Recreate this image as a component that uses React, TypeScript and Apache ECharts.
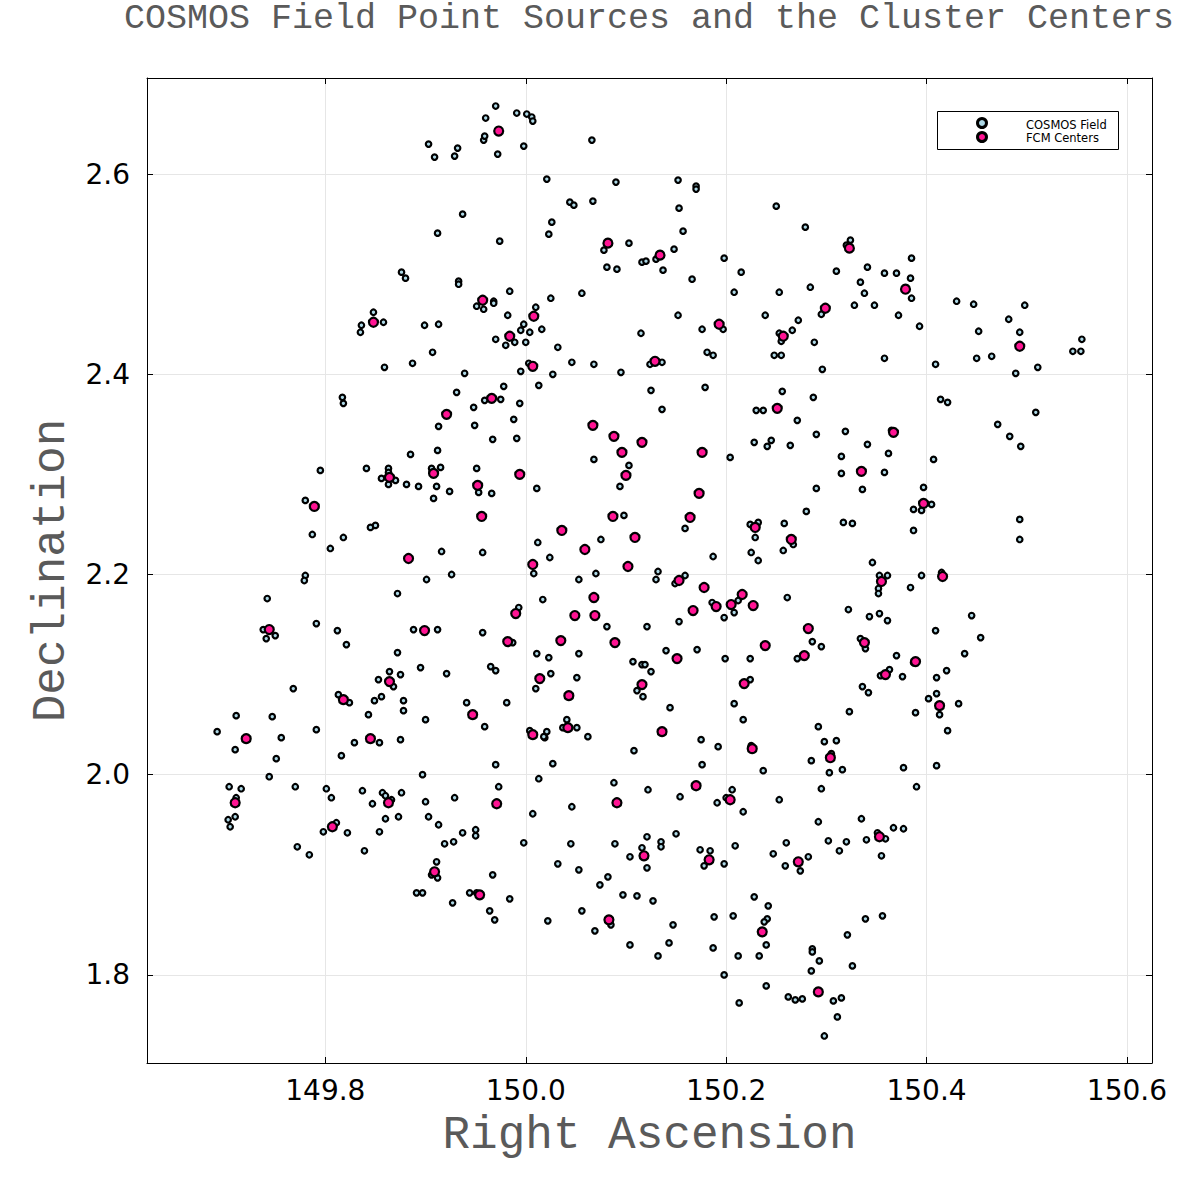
import React, { useEffect, useRef } from "react";
import * as echarts from "echarts";

const chartTitle = "COSMOS Field Point Sources and the Cluster Centers";
const xName = "Right Ascension";
const yName = "Declination";
const legendNames = ["COSMOS Field", "FCM Centers"];
const raRange = [149.622, 150.625];
const decRange = [1.712, 2.696];

// [RA, Dec] of field point sources
const fieldPoints: number[][] = [
  [149.970, 2.668], [149.960, 2.656], [149.991, 2.661], [150.001, 2.660], [150.006, 2.657], [150.007, 2.653],
  [149.958, 2.634], [149.959, 2.638], [149.903, 2.630], [149.932, 2.626], [149.909, 2.617], [149.929, 2.618],
  [149.972, 2.620], [149.998, 2.628], [150.066, 2.634], [150.021, 2.595], [150.090, 2.592], [150.152, 2.594],
  [150.170, 2.588], [150.170, 2.585], [150.250, 2.568], [150.044, 2.572], [150.048, 2.569], [150.067, 2.573],
  [150.153, 2.566], [150.026, 2.552], [150.023, 2.540], [149.937, 2.560], [149.912, 2.541], [149.974, 2.533],
  [150.078, 2.524], [150.103, 2.531], [150.157, 2.543], [150.148, 2.525], [150.130, 2.515], [150.116, 2.512],
  [150.120, 2.513], [150.137, 2.504], [150.081, 2.507], [150.091, 2.505], [150.198, 2.516], [150.215, 2.502],
  [150.166, 2.495], [150.208, 2.482], [150.253, 2.482], [150.056, 2.481], [149.984, 2.483], [149.968, 2.473],
  [149.968, 2.471], [150.025, 2.476], [150.010, 2.467], [149.982, 2.459], [149.998, 2.450], [149.995, 2.444],
  [150.004, 2.442], [150.016, 2.445], [149.970, 2.435], [149.980, 2.429], [149.989, 2.432], [150.000, 2.432],
  [150.032, 2.427], [150.046, 2.412], [150.068, 2.410], [150.095, 2.402], [150.003, 2.411], [149.995, 2.403],
  [150.027, 2.400], [150.013, 2.389], [149.978, 2.388], [149.975, 2.375], [149.994, 2.371], [149.988, 2.355],
  [150.152, 2.459], [150.176, 2.445], [150.197, 2.445], [150.115, 2.441], [150.124, 2.410], [150.136, 2.412],
  [150.181, 2.422], [150.187, 2.419], [150.125, 2.384], [150.179, 2.387], [150.136, 2.365], [150.239, 2.459],
  [150.253, 2.441], [150.255, 2.433], [150.266, 2.444], [150.272, 2.454], [150.248, 2.419], [150.255, 2.419],
  [150.256, 2.383], [150.230, 2.364], [150.237, 2.364], [150.271, 2.354], [149.876, 2.502], [149.880, 2.496],
  [149.933, 2.493], [149.933, 2.490], [149.951, 2.468], [149.958, 2.465], [149.848, 2.462], [149.858, 2.452],
  [149.836, 2.449], [149.835, 2.442], [149.899, 2.449], [149.913, 2.450], [149.907, 2.422], [149.887, 2.411],
  [149.859, 2.407], [149.939, 2.401], [149.817, 2.377], [149.818, 2.371], [149.931, 2.382], [149.959, 2.374],
  [149.948, 2.367], [149.913, 2.348], [149.949, 2.349], [150.279, 2.547], [150.324, 2.534], [150.320, 2.529],
  [150.385, 2.516], [150.310, 2.503], [150.341, 2.507], [150.358, 2.501], [150.370, 2.501], [150.384, 2.496],
  [150.334, 2.492], [150.284, 2.487], [150.338, 2.481], [150.385, 2.476], [150.295, 2.460], [150.328, 2.469],
  [150.348, 2.469], [150.372, 2.459], [150.393, 2.448], [150.288, 2.432], [150.358, 2.416], [150.296, 2.405],
  [150.430, 2.473], [150.447, 2.470], [150.498, 2.469], [150.482, 2.455], [150.452, 2.443], [150.493, 2.442],
  [150.555, 2.435], [150.546, 2.423], [150.554, 2.423], [150.450, 2.416], [150.465, 2.418], [150.409, 2.410],
  [150.489, 2.401], [150.511, 2.407], [150.287, 2.377], [150.414, 2.375], [150.421, 2.372], [150.509, 2.362],
  [150.471, 2.350], [149.967, 2.335], [149.912, 2.324], [149.885, 2.320], [149.795, 2.304], [149.841, 2.306],
  [149.863, 2.306], [149.863, 2.302], [149.856, 2.296], [149.870, 2.294], [149.863, 2.290], [149.881, 2.290],
  [149.893, 2.288], [149.906, 2.306], [149.915, 2.307], [149.911, 2.288], [149.924, 2.283], [149.908, 2.276],
  [149.951, 2.306], [149.953, 2.282], [149.966, 2.281], [149.780, 2.274], [149.850, 2.249], [149.845, 2.247],
  [149.787, 2.240], [149.818, 2.237], [149.805, 2.226], [149.916, 2.223], [149.957, 2.222], [149.780, 2.199],
  [149.779, 2.194], [149.901, 2.195], [149.926, 2.200], [149.872, 2.181], [149.742, 2.176], [149.738, 2.145],
  [149.750, 2.139], [149.741, 2.136], [149.791, 2.151], [149.812, 2.144], [149.821, 2.130], [149.888, 2.145],
  [149.912, 2.145], [149.957, 2.142], [149.872, 2.122], [149.895, 2.107], [149.921, 2.101], [149.965, 2.108],
  [149.970, 2.104], [149.864, 2.103], [149.875, 2.100], [149.853, 2.095], [149.868, 2.088], [149.768, 2.086],
  [149.813, 2.080], [149.824, 2.072], [149.849, 2.074], [149.856, 2.078], [149.878, 2.074], [149.878, 2.064],
  [149.843, 2.060], [149.900, 2.055], [149.941, 2.072], [149.981, 2.072], [149.959, 2.048], [149.711, 2.059],
  [149.747, 2.058], [149.692, 2.043], [149.756, 2.037], [149.791, 2.045], [149.829, 2.032], [149.854, 2.032],
  [149.875, 2.035], [149.710, 2.025], [149.751, 2.016], [149.816, 2.019], [149.744, 1.998], [149.770, 1.988],
  [149.704, 1.988], [149.716, 1.986], [149.711, 1.977], [149.703, 1.955], [149.710, 1.958], [149.705, 1.948],
  [149.801, 1.986], [149.806, 1.977], [149.811, 1.952], [149.798, 1.943], [149.822, 1.942], [149.772, 1.928],
  [149.784, 1.920], [149.837, 1.984], [149.847, 1.971], [149.857, 1.982], [149.860, 1.979], [149.866, 1.975],
  [149.876, 1.982], [149.860, 1.956], [149.873, 1.958], [149.854, 1.943], [149.839, 1.924], [149.897, 2.000],
  [149.970, 2.010], [149.973, 1.988], [149.900, 1.973], [149.929, 1.977], [149.903, 1.958], [149.913, 1.950],
  [149.937, 1.942], [149.950, 1.945], [149.950, 1.939], [149.919, 1.931], [149.928, 1.933], [149.911, 1.913],
  [149.906, 1.900], [149.912, 1.897], [149.967, 1.900], [149.891, 1.882], [149.897, 1.882], [149.944, 1.882],
  [149.951, 1.882], [149.927, 1.872], [149.964, 1.864], [149.969, 1.855], [149.984, 1.876], [150.019, 2.037],
  [150.021, 2.043], [150.062, 2.038], [150.175, 2.035], [150.192, 2.028], [150.225, 2.029], [150.108, 2.024],
  [150.027, 2.011], [150.176, 2.010], [150.237, 2.004], [150.013, 1.996], [150.088, 1.992], [150.122, 1.985],
  [150.206, 1.985], [150.200, 1.977], [150.191, 1.972], [150.217, 1.963], [150.154, 1.978], [150.253, 1.975],
  [150.007, 1.961], [150.046, 1.968], [150.150, 1.941], [150.121, 1.938], [150.135, 1.933], [150.135, 1.928],
  [150.116, 1.927], [150.104, 1.918], [150.121, 1.907], [150.089, 1.931], [150.045, 1.931], [149.998, 1.932],
  [150.032, 1.911], [150.053, 1.905], [150.174, 1.925], [150.184, 1.924], [150.178, 1.909], [150.198, 1.911],
  [150.209, 1.929], [150.260, 1.932], [150.247, 1.921], [150.259, 1.909], [150.082, 1.898], [150.074, 1.890],
  [150.097, 1.880], [150.111, 1.879], [150.127, 1.874], [150.022, 1.854], [150.056, 1.864], [150.085, 1.850],
  [150.069, 1.844], [150.147, 1.850], [150.143, 1.832], [150.104, 1.830], [150.132, 1.819], [150.188, 1.858],
  [150.207, 1.859], [150.228, 1.878], [150.242, 1.869], [150.241, 1.856], [150.238, 1.853], [150.240, 1.830],
  [150.187, 1.827], [150.212, 1.819], [150.233, 1.819], [150.198, 1.800], [150.240, 1.789], [150.213, 1.772],
  [150.262, 1.778], [150.269, 1.775], [150.298, 2.033], [150.310, 2.034], [150.305, 2.021], [150.285, 2.014],
  [150.303, 2.002], [150.316, 2.005], [150.421, 2.044], [150.377, 2.007], [150.410, 2.009], [150.390, 1.988],
  [150.295, 1.986], [150.292, 1.953], [150.335, 1.956], [150.302, 1.934], [150.320, 1.933], [150.313, 1.924],
  [150.282, 1.918], [150.274, 1.904], [150.340, 1.935], [150.351, 1.942], [150.359, 1.936], [150.367, 1.947],
  [150.377, 1.946], [150.355, 1.919], [150.339, 1.856], [150.356, 1.859], [150.321, 1.840], [150.286, 1.826],
  [150.286, 1.823], [150.293, 1.814], [150.285, 1.804], [150.326, 1.809], [150.276, 1.776], [150.307, 1.774],
  [150.315, 1.777], [150.311, 1.758], [150.298, 1.739], [149.991, 2.336], [150.068, 2.315], [150.103, 2.309],
  [150.094, 2.288], [150.011, 2.286], [150.204, 2.317], [150.228, 2.332], [150.241, 2.328], [150.245, 2.334],
  [150.264, 2.329], [150.098, 2.259], [150.159, 2.246], [150.012, 2.232], [150.024, 2.217], [150.075, 2.235],
  [150.070, 2.201], [150.053, 2.195], [150.008, 2.201], [150.132, 2.203], [150.130, 2.195], [150.149, 2.191],
  [150.159, 2.199], [150.187, 2.218], [150.224, 2.250], [150.232, 2.252], [150.229, 2.237], [150.258, 2.251],
  [150.267, 2.230], [150.225, 2.222], [150.232, 2.214], [150.257, 2.224], [150.017, 2.175], [150.081, 2.148],
  [150.121, 2.148], [150.153, 2.153], [150.186, 2.172], [150.212, 2.174], [150.208, 2.162], [150.198, 2.157],
  [150.261, 2.177], [149.993, 2.167], [149.987, 2.132], [150.011, 2.121], [150.023, 2.117], [150.053, 2.121],
  [150.107, 2.113], [150.116, 2.110], [150.119, 2.110], [150.125, 2.103], [150.140, 2.124], [150.171, 2.125],
  [150.199, 2.116], [150.224, 2.116], [150.271, 2.116], [150.025, 2.101], [150.051, 2.097], [150.010, 2.086],
  [150.111, 2.084], [150.117, 2.078], [150.144, 2.067], [150.224, 2.095], [150.208, 2.071], [150.217, 2.055],
  [150.041, 2.055], [150.037, 2.047], [150.051, 2.047], [150.004, 2.044], [150.018, 2.038], [150.290, 2.340],
  [150.319, 2.343], [150.341, 2.330], [150.315, 2.318], [150.362, 2.321], [150.407, 2.315], [150.483, 2.338],
  [150.494, 2.328], [150.315, 2.301], [150.358, 2.302], [150.290, 2.286], [150.336, 2.285], [150.397, 2.287],
  [150.405, 2.270], [150.387, 2.265], [150.395, 2.264], [150.280, 2.263], [150.317, 2.252], [150.326, 2.251],
  [150.387, 2.244], [150.493, 2.255], [150.493, 2.235], [150.346, 2.212], [150.353, 2.199], [150.361, 2.199],
  [150.352, 2.186], [150.352, 2.181], [150.384, 2.187], [150.395, 2.199], [150.322, 2.165], [150.343, 2.158],
  [150.353, 2.161], [150.361, 2.154], [150.445, 2.159], [150.409, 2.144], [150.454, 2.137], [150.286, 2.133],
  [150.295, 2.128], [150.334, 2.136], [150.339, 2.126], [150.370, 2.119], [150.354, 2.099], [150.363, 2.105],
  [150.376, 2.098], [150.438, 2.121], [150.420, 2.104], [150.410, 2.097], [150.336, 2.088], [150.342, 2.082],
  [150.402, 2.076], [150.410, 2.081], [150.413, 2.060], [150.432, 2.071], [150.389, 2.062], [150.323, 2.063],
  [150.292, 2.048], [150.365, 2.344], [150.415, 2.202], [150.387, 2.112],
];

// [RA, Dec] of the fuzzy c-means cluster centers
const clusterCenters: number[][] = [
  [149.973, 2.643], [150.082, 2.531], [150.134, 2.519], [149.957, 2.474], [149.848, 2.452], [150.008, 2.458],
  [149.984, 2.438], [150.193, 2.450], [150.007, 2.408], [150.129, 2.413], [149.966, 2.376], [149.921, 2.360],
  [150.257, 2.438], [150.251, 2.366], [150.067, 2.349], [150.323, 2.526], [150.379, 2.485], [150.299, 2.466],
  [150.493, 2.428], [149.864, 2.297], [149.908, 2.301], [149.952, 2.289], [149.956, 2.258], [149.789, 2.268],
  [149.883, 2.216], [149.744, 2.145], [149.899, 2.144], [149.982, 2.133], [149.864, 2.093], [149.818, 2.075],
  [149.947, 2.060], [149.721, 2.036], [149.845, 2.036], [149.710, 1.972], [149.807, 1.948], [149.863, 1.972],
  [149.971, 1.971], [149.909, 1.903], [149.954, 1.880], [150.088, 2.338], [150.096, 2.322], [150.116, 2.332],
  [150.100, 2.299], [149.994, 2.300], [150.176, 2.322], [150.173, 2.281], [150.087, 2.258], [150.164, 2.257],
  [150.036, 2.244], [150.059, 2.225], [150.109, 2.237], [150.102, 2.208], [150.007, 2.210], [150.153, 2.194],
  [150.178, 2.187], [150.229, 2.247], [150.265, 2.235], [150.068, 2.177], [150.069, 2.159], [150.049, 2.159],
  [150.167, 2.164], [150.190, 2.168], [150.205, 2.170], [150.216, 2.180], [150.227, 2.169], [149.990, 2.161],
  [150.035, 2.134], [150.089, 2.132], [150.151, 2.116], [150.239, 2.129], [150.014, 2.096], [150.043, 2.079],
  [150.116, 2.090], [150.218, 2.091], [150.042, 2.047], [150.007, 2.040], [150.136, 2.043], [150.226, 2.026],
  [150.170, 1.989], [150.204, 1.975], [150.091, 1.972], [150.118, 1.919], [150.183, 1.915], [150.083, 1.855],
  [150.236, 1.843], [150.304, 2.017], [150.272, 1.913], [150.353, 1.938], [150.292, 1.783], [150.367, 2.342],
  [150.335, 2.303], [150.397, 2.271], [150.355, 2.193], [150.416, 2.198], [150.282, 2.146], [150.338, 2.132],
  [150.389, 2.113], [150.278, 2.119], [150.359, 2.100], [150.413, 2.069],
];

const FIELD_COLOR = "#add8e6";
const CENTER_COLOR = "#ff1493";
const MONO = "'Liberation Mono', 'DejaVu Sans Mono', monospace";
const SANS = "'DejaVu Sans', sans-serif";

export default function App() {
  const ref = useRef<HTMLDivElement>(null);
  useEffect(() => {
    if (!ref.current) return;
    const chart = echarts.init(ref.current, null, { renderer: "svg" });
    const fmt = (v: number) => v.toFixed(1);
    const hiddenAxisCommon = {
      axisLine: { show: true, lineStyle: { color: "#000", width: 1 } },
      axisTick: { show: true, inside: true, length: 6, lineStyle: { color: "#000" } },
      axisLabel: { show: false },
      splitLine: { show: false },
    };
    chart.setOption({
      animation: false,
      backgroundColor: "#fff",
      grid: { left: 147, top: 78, right: 48, bottom: 137, containLabel: false },
      xAxis: [
        {
          type: "value",
          min: raRange[0],
          max: raRange[1],
          position: "bottom",
          name: xName,
          nameLocation: "middle",
          nameGap: 50,
          nameTextStyle: { fontFamily: MONO, fontSize: 46, color: "#5a5a5a" },
          axisLine: { show: true, onZero: false, lineStyle: { color: "#000", width: 1 } },
          axisTick: { show: true, inside: true, length: 6, lineStyle: { color: "#000" } },
          axisLabel: {
            formatter: fmt, fontSize: 28, color: "#000", fontFamily: SANS, margin: 13,
            showMinLabel: false, showMaxLabel: false,
          },
          splitLine: { show: true, lineStyle: { color: "#e6e6e6", width: 1 } },
        },
        { type: "value", min: raRange[0], max: raRange[1], position: "top", ...hiddenAxisCommon },
      ],
      yAxis: [
        {
          type: "value",
          min: decRange[0],
          max: decRange[1],
          position: "left",
          name: yName,
          nameLocation: "middle",
          nameGap: 72,
          nameTextStyle: { fontFamily: MONO, fontSize: 46, color: "#5a5a5a" },
          axisLine: { show: true, onZero: false, lineStyle: { color: "#000", width: 1 } },
          axisTick: { show: true, inside: true, length: 6, lineStyle: { color: "#000" } },
          axisLabel: {
            formatter: fmt, fontSize: 28, color: "#000", fontFamily: SANS, margin: 17,
            showMinLabel: false, showMaxLabel: false,
          },
          splitLine: { show: true, lineStyle: { color: "#e6e6e6", width: 1 } },
        },
        { type: "value", min: decRange[0], max: decRange[1], position: "right", ...hiddenAxisCommon },
      ],
      series: [
        {
          name: legendNames[0],
          type: "scatter",
          xAxisIndex: 0,
          yAxisIndex: 0,
          data: fieldPoints,
          symbol: "circle",
          symbolSize: 5.5,
          itemStyle: { color: FIELD_COLOR, borderColor: "#000", borderWidth: 2.2, opacity: 1 },
          z: 2,
        },
        {
          name: legendNames[1],
          type: "scatter",
          xAxisIndex: 0,
          yAxisIndex: 0,
          data: clusterCenters,
          symbol: "circle",
          symbolSize: 9,
          itemStyle: { color: CENTER_COLOR, borderColor: "#000", borderWidth: 2.2, opacity: 1 },
          z: 3,
        },
      ],
      graphic: [
        {
          type: "text",
          x: 649,
          y: 19,
          style: {
            text: chartTitle, fontFamily: MONO, fontSize: 35, fill: "#5a5a5a",
            textAlign: "center", textVerticalAlign: "middle",
          },
        },
        {
          type: "group",
          z: 100,
          children: [
            { type: "rect", shape: { x: 937.5, y: 111.5, width: 181, height: 38 }, style: { fill: "#fff", stroke: "#000", lineWidth: 1 } },
            { type: "circle", shape: { cx: 982, cy: 123, r: 4.5 }, style: { fill: FIELD_COLOR, stroke: "#000", lineWidth: 3 } },
            { type: "circle", shape: { cx: 982, cy: 137, r: 4.5 }, style: { fill: CENTER_COLOR, stroke: "#000", lineWidth: 3 } },
            { type: "text", x: 1026, y: 124.5, style: { text: legendNames[0], fontFamily: SANS, fontSize: 11.5, fill: "#000", textVerticalAlign: "middle" } },
            { type: "text", x: 1026, y: 137.5, style: { text: legendNames[1], fontFamily: SANS, fontSize: 11.5, fill: "#000", textVerticalAlign: "middle" } },
          ],
        },
      ],
    });
    return () => chart.dispose();
  }, []);
  return <div ref={ref} style={{ position: "absolute", left: 0, top: 0, width: 1200, height: 1200 }} />;
}
